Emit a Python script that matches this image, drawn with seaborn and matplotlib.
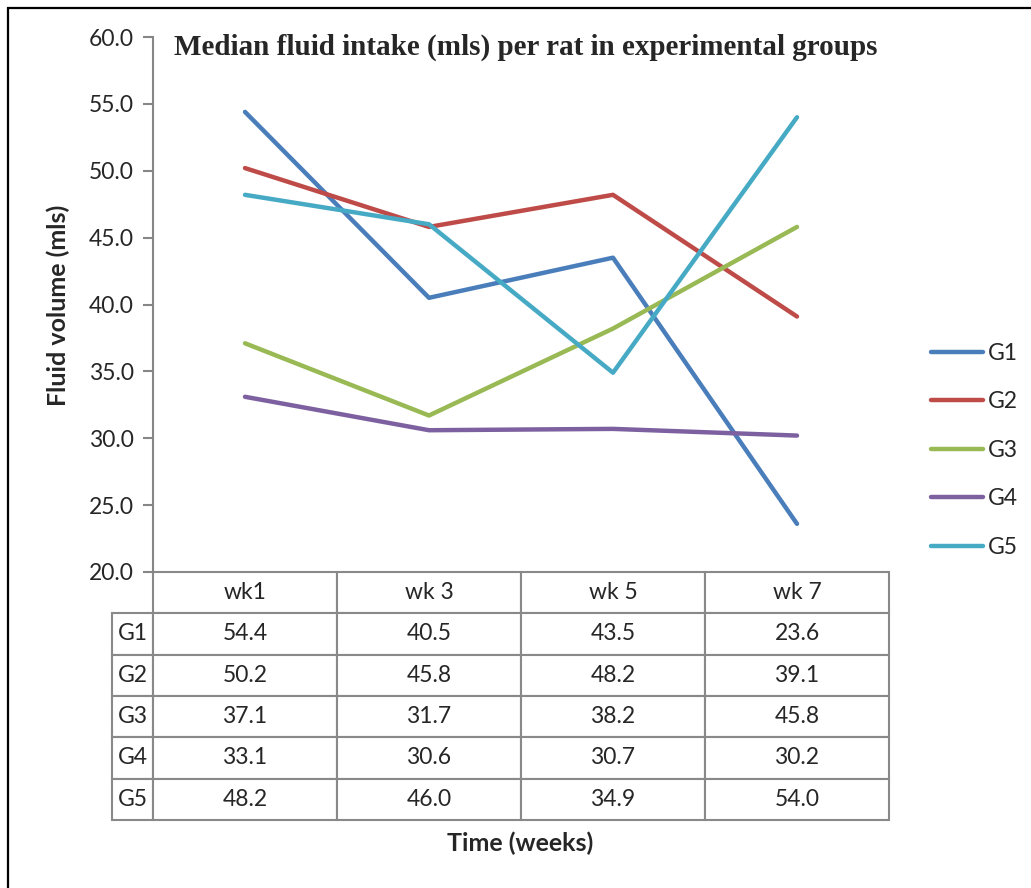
import seaborn as sns
import matplotlib.pyplot as plt
import pandas as pd
from matplotlib.patches import Rectangle

weeks = ['wk1', 'wk 3', 'wk 5', 'wk 7']
groups = ['G1', 'G2', 'G3', 'G4', 'G5']
g1 = [54.4, 40.5, 43.5, 23.6]
g2 = [50.2, 45.8, 48.2, 39.1]
g3 = [37.1, 31.7, 38.2, 45.8]
g4 = [33.1, 30.6, 30.7, 30.2]
g5 = [48.2, 46.0, 34.9, 54.0]
colors = ['#4A7EBB', '#BE4B48', '#98B954', '#7D60A0', '#46AAC5']

series = [g1, g2, g3, g4, g5]
rows = []
for g, vals in zip(groups, series):
    for i, v in enumerate(vals):
        rows.append({'week': i, 'group': g, 'value': v})
df = pd.DataFrame(rows)

sns.set_style('white')
plt.rcParams['font.family'] = ['Lato', 'DejaVu Sans']

W, H = 1031, 888
fs = 16.5
fig = plt.figure(figsize=(W / 100, H / 100), dpi=100)
# plot area in pixels: x 153..889, y 37..572
ax = fig.add_axes([153 / W, 1 - 572 / H, (889 - 153) / W, (572 - 37) / H])

sns.lineplot(data=df, x='week', y='value', hue='group', palette=colors,
             linewidth=3.2, ax=ax, legend=False)

ax.set_xlim(-0.5, 3.5)
ax.set_ylim(20, 60)
ax.set_yticks(range(20, 61, 5))
ax.set_yticklabels([f'{v:.1f}' for v in range(20, 61, 5)], fontsize=fs)
ax.set_xticks([])
ax.set_xlabel('')
ax.set_ylabel('')
for s in ['top', 'right', 'bottom']:
    ax.spines[s].set_visible(False)
ax.spines['left'].set_color('#868686')
ax.spines['left'].set_linewidth(1.5)
ax.tick_params(axis='y', length=7, width=1.5, color='#868686', direction='out',
               left=True, pad=7)

# data table under the plot
cell_text = [[''] + weeks]
for g, vals in zip(groups, series):
    cell_text.append([g] + [f'{v:.1f}' for v in vals])
lw = 41 / 736
tab = ax.table(cellText=cell_text, cellLoc='center',
               colWidths=[lw, 0.25, 0.25, 0.25, 0.25],
               bbox=[-lw, -(820 - 572) / 535, 1 + lw, (820 - 572) / 535])
tab.auto_set_font_size(False)
tab.set_fontsize(fs)
for (r, c), cell in tab.get_celld().items():
    cell.set_edgecolor('#898989')
    cell.set_linewidth(1.5)
tab[0, 0].set_visible(False)

# legend
handles = [plt.Line2D([], [], color=c, linewidth=3.2) for c in colors]
fig.legend(handles, groups, loc='upper left', bbox_to_anchor=(910 / W, 1 - 322 / H),
           frameon=False, fontsize=fs, handlelength=2.3, handletextpad=0.2,
           labelspacing=1.2)

fig.text(526 / W, 1 - 47 / H, 'Median fluid intake (mls) per rat in experimental groups',
         ha='center', va='center', fontsize=21, fontweight='bold',
         family='Liberation Serif')
fig.text(58 / W, 1 - 305 / H, 'Fluid volume (mls)', rotation=90, ha='center',
         va='center', fontsize=18, fontweight='bold')
fig.text(520 / W, 1 - 843 / H, 'Time (weeks)', ha='center', va='center',
         fontsize=18, fontweight='bold')

# outer chart frame (cut off at right and bottom)
fig.patches.append(Rectangle((8 / W, -0.1), 1.2, 1.1 - 8 / H, transform=fig.transFigure,
                             fill=False, edgecolor='black', linewidth=1.6))

plt.savefig('out.png', dpi=100)
